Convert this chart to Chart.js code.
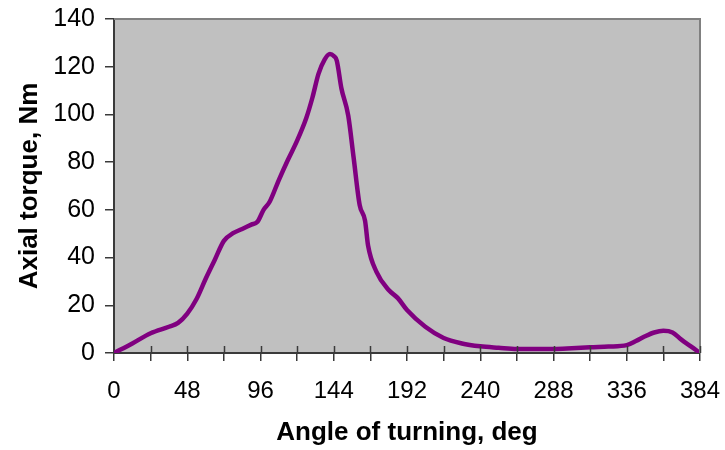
<!DOCTYPE html>
<html>
<head>
<meta charset="utf-8">
<script src="https://cdn.jsdelivr.net/npm/chart.js@4/dist/chart.umd.min.js"></script>
<style>
  html, body { margin: 0; padding: 0; background: #fff; }
  #wrap { width: 725px; height: 450px; }
</style>
</head>
<body>
<div id="wrap"><canvas id="torqueChart" width="725" height="450"></canvas></div>
<script>
// angle of turning (deg) and axial torque (Nm)
const angles = [0, 12, 24, 36, 42, 48, 54, 60, 66, 72, 78, 84, 90, 94, 98, 102, 108, 114, 120, 126, 130, 134, 138, 141.5, 144, 146, 149, 153.5, 157, 161, 164.5, 166.5, 172, 180, 186, 192, 204, 216, 228, 240, 252, 264, 276, 288, 300, 312, 324, 336, 342, 348, 354, 360, 366, 372, 378, 384];
const torque = [0, 4, 8.3, 11, 12.6, 16.5, 22.5, 31, 39, 47, 50.2, 52, 53.8, 55, 60, 63.4, 72.5, 81, 89, 98.5, 107, 117, 123, 125.3, 124.5, 122.5, 111, 99.5, 82, 62, 55.5, 45, 34, 26.4, 23, 18, 11, 6.3, 4, 2.8, 2.2, 1.7, 1.7, 1.7, 2, 2.4, 2.7, 3.3, 5, 7, 8.6, 9.3, 8.6, 5.5, 2.8, 0];

const xLabels = [0, 48, 96, 144, 192, 240, 288, 336, 384];
const yLabels = [0, 20, 40, 60, 80, 100, 120, 140];

const FONT = "'Liberation Sans', Arial, sans-serif";

// gray plot area, frame and inner half of x ticks
const plotFrame = {
    id: 'plotFrame',
    beforeDraw(chart) {
        const { ctx, chartArea: a } = chart;
        ctx.save();
        ctx.fillStyle = '#c0c0c0';
        ctx.fillRect(a.left, a.top, a.right - a.left, a.bottom - a.top);
        ctx.restore();
    },
    afterDatasetsDraw(chart) {
        const { ctx, chartArea: a, scales } = chart;
        ctx.save();
        ctx.lineWidth = 2;
        ctx.strokeStyle = '#808080';
        ctx.beginPath();
        ctx.moveTo(a.left, a.top);
        ctx.lineTo(a.right, a.top);
        ctx.lineTo(a.right, a.bottom);
        ctx.stroke();
        ctx.strokeStyle = '#3a3a3a';
        ctx.lineWidth = 1.5;
        for (let v = 24; v <= 384; v += 24) {
            const px = Math.round(scales.x.getPixelForValue(v)) + 0.5;
            ctx.beginPath();
            ctx.moveTo(px, a.bottom);
            ctx.lineTo(px, a.bottom - 7);
            ctx.stroke();
        }
        ctx.restore();
    }
};

new Chart(document.getElementById('torqueChart').getContext('2d'), {
    type: 'line',
    data: {
        datasets: [{
            data: angles.map((a, i) => ({ x: a, y: torque[i] })),
            borderColor: '#800080',
            borderWidth: 4.5,
            pointRadius: 0,
            fill: false,
            cubicInterpolationMode: 'monotone'
        }]
    },
    options: {
        responsive: false,
        animation: false,
        layout: { padding: { top: 19, right: 25, left: 0, bottom: 0 } },
        plugins: { legend: { display: false }, tooltip: { enabled: false } },
        scales: {
            x: {
                type: 'linear',
                min: 0,
                max: 384,
                afterFit: s => {
                    s.height = 97;
                    s.paddingLeft = 0;
                    s.paddingRight = 0;
                },
                afterBuildTicks: s => {
                    s.ticks = [];
                    for (let v = 0; v <= 384; v += 24) s.ticks.push({ value: v });
                },
                ticks: {
                    autoSkip: false,
                    maxRotation: 0,
                    padding: 16,
                    color: '#000',
                    font: { family: FONT, size: 24 },
                    callback: v => (xLabels.includes(v) ? String(v) : '')
                },
                grid: { display: true, drawOnChartArea: false, drawTicks: true, tickLength: 8, color: '#3a3a3a', lineWidth: 1.5 },
                border: { display: true, color: '#3a3a3a', width: 2 },
                title: {
                    display: true,
                    text: 'Angle of turning, deg',
                    color: '#000',
                    font: { family: FONT, size: 26, weight: 'bold' },
                    padding: { top: 4, bottom: 2 }
                }
            },
            y: {
                min: 0,
                max: 140,
                afterFit: s => {
                    s.width = 114;
                    s.paddingTop = 0;
                    s.paddingBottom = 0;
                },
                afterBuildTicks: s => { s.ticks = yLabels.map(v => ({ value: v })); },
                ticks: {
                    padding: 10,
                    color: '#000',
                    font: { family: FONT, size: 25 }
                },
                grid: { display: true, drawOnChartArea: false, drawTicks: true, tickLength: 9, color: '#3a3a3a', lineWidth: 1.5 },
                border: { display: true, color: '#3a3a3a', width: 2 },
                title: {
                    display: true,
                    text: 'Axial torque, Nm',
                    color: '#000',
                    font: { family: FONT, size: 26, weight: 'bold' },
                    padding: { top: 14, bottom: 4 }
                }
            }
        }
    },
    plugins: [plotFrame]
});
</script>
</body>
</html>
